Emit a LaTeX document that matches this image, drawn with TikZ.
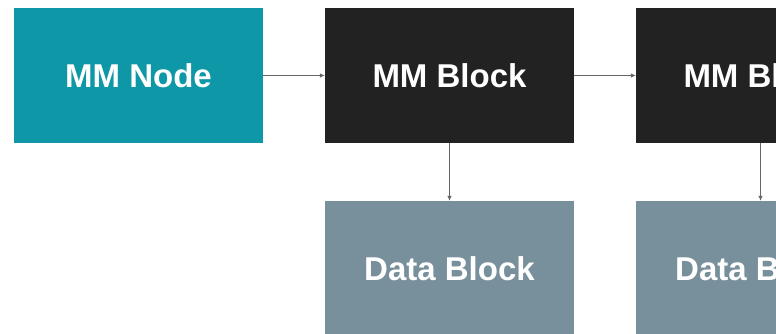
\documentclass[tikz,border=0pt]{standalone}
\usepackage{fontspec}
\setmainfont{Liberation Sans}
\usepackage{xcolor}
\definecolor{mmteal}{HTML}{0E97A6}
\definecolor{mmdark}{HTML}{222222}
\definecolor{mmslate}{HTML}{78909C}
\usepackage{tikz}
\usetikzlibrary{arrows.meta}

\begin{document}
\begin{tikzpicture}[
  x=1pt, y=-1pt,
  box/.style = {minimum width=249pt, minimum height=135pt, inner sep=0pt,
                text=white, font=\fontsize{33}{36}\selectfont\bfseries},
  nodebox/.style = {box, fill=mmteal},
  mmbox/.style = {box, fill=mmdark},
  databox/.style = {box, fill=mmslate},
  arr/.style = {-{Latex[length=5pt,width=4.5pt]}, line width=0.8pt, black!60},
]
\useasboundingbox (0,0) rectangle (776,334);
\clip (0,0) rectangle (776,334);

\node[nodebox] at (138.5,75.5) (mmnode) {MM Node};
\node[mmbox]   at (449.5,75.5) (mmb1)   {MM Block};
\node[mmbox]   at (760.5,75.5) (mmb2)   {MM Block};

\node[databox] at (449.5,268.5) (db1) {Data Block};
\node[databox] at (760.5,268.5) (db2) {Data Block};

\draw[arr] (mmnode.east) -- (mmb1.west);
\draw[arr] (mmb1.east) -- (mmb2.west);
\foreach \top/\bot in {mmb1/db1, mmb2/db2} {
  \draw[arr] (\top.south) -- (\bot.north);
}
\end{tikzpicture}
\end{document}
